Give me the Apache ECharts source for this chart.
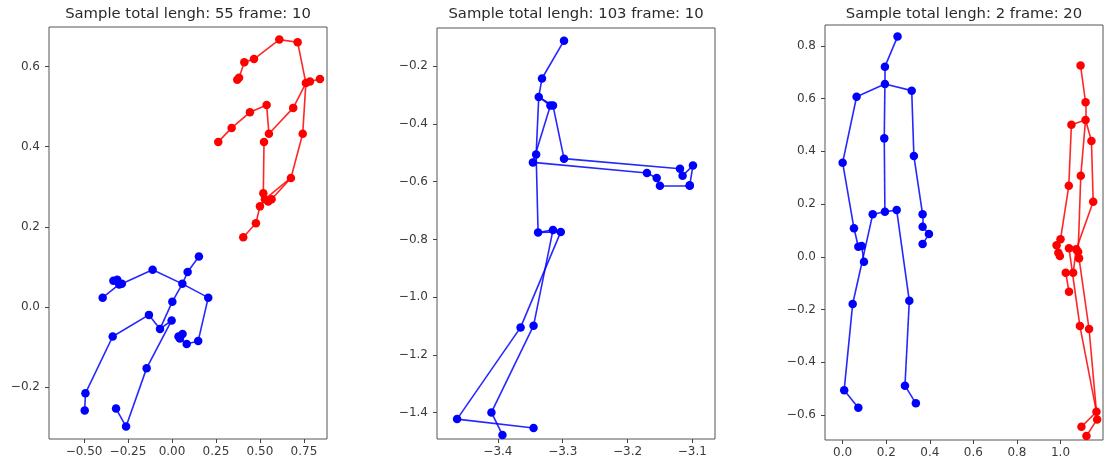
<!DOCTYPE html>
<html>
<head>
<meta charset="utf-8">
<script src="https://cdn.jsdelivr.net/npm/echarts@6/dist/echarts.min.js"></script>
<style>
  html, body { margin: 0; background: #fff; }
  #chart { width: 1109px; height: 466px; }
</style>
</head>
<body>
<div id="chart"></div>
<script>
// panel titles
const titles = [
  'Sample total lengh: 55 frame: 10',
  'Sample total lengh: 103 frame: 10',
  'Sample total lengh: 2 frame: 20'
]

// NTU 25-joint skeleton bones (1-based joint numbers)
const bones = [
  [1, 2], [2, 21], [3, 21], [4, 3], [5, 21], [6, 5], [7, 6], [8, 7],
  [9, 21], [10, 9], [11, 10], [12, 11], [13, 1], [14, 13], [15, 14], [16, 15],
  [17, 1], [18, 17], [19, 18], [20, 19], [22, 23], [23, 8], [24, 25], [25, 12]
]

// joint positions [x, y], joints 1..25
const p1Blue = [
  [-0.068, -0.055], [0.002, 0.013], [0.089, 0.087], [0.153, 0.126], [-0.110, 0.0925],
  [-0.285, 0.058], [-0.311, 0.0675], [-0.333, 0.065], [0.206, 0.023], [0.149, -0.085],
  [0.0835, -0.0925], [0.045, -0.079], [-0.131, -0.020], [-0.337, -0.074], [-0.492, -0.216],
  [-0.496, -0.259], [-0.002, -0.034], [-0.144, -0.153], [-0.261, -0.299], [-0.318, -0.254],
  [0.059, 0.0575], [-0.394, 0.023], [-0.300, 0.056], [0.037, -0.074], [0.060, -0.0675]
]
const p1Red = [
  [0.676, 0.322], [0.743, 0.4325], [0.784, 0.563], [0.841, 0.569], [0.714, 0.661],
  [0.610, 0.6675], [0.466, 0.619], [0.411, 0.611], [0.689, 0.497], [0.551, 0.4325],
  [0.538, 0.504], [0.443, 0.486], [0.566, 0.269], [0.547, 0.263], [0.519, 0.284],
  [0.523, 0.412], [0.528, 0.269], [0.500, 0.251], [0.477, 0.209], [0.405, 0.174],
  [0.761, 0.559], [0.371, 0.5675], [0.381, 0.572], [0.263, 0.412], [0.339, 0.447]
]
const p2Blue = [
  [-3.338, -0.776], [-3.341, -0.506], [-3.332, -0.242], [-3.298, -0.111], [-3.319, -0.336],
  [-3.346, -0.533], [-3.170, -0.570], [-3.155, -0.587], [-3.315, -0.336], [-3.298, -0.520],
  [-3.119, -0.555], [-3.115, -0.579], [-3.315, -0.767], [-3.345, -1.099], [-3.410, -1.400],
  [-3.393, -1.478], [-3.303, -0.774], [-3.365, -1.105], [-3.463, -1.423], [-3.345, -1.454],
  [-3.337, -0.306], [-3.104, -0.614], [-3.150, -0.614], [-3.104, -0.612], [-3.099, -0.544]
]
const p3Blue = [
  [0.194, 0.171], [0.191, 0.449], [0.194, 0.721], [0.252, 0.835], [0.064, 0.607],
  [0.000, 0.357], [0.052, 0.108], [0.072, 0.038], [0.317, 0.630], [0.327, 0.382],
  [0.367, 0.161], [0.367, 0.114], [0.138, 0.161], [0.046, -0.179], [0.007, -0.506],
  [0.072, -0.573], [0.248, 0.177], [0.306, -0.167], [0.286, -0.489], [0.336, -0.556],
  [0.194, 0.655], [0.098, -0.019], [0.087, 0.041], [0.367, 0.048], [0.396, 0.086]
]
const p3Red = [
  [1.081, 0.019], [1.093, 0.307], [1.115, 0.586], [1.092, 0.725], [1.050, 0.501],
  [1.038, 0.269], [1.000, 0.066], [0.982, 0.044], [1.142, 0.439], [1.150, 0.209],
  [1.072, 0.028], [1.058, -0.061], [1.039, 0.032], [1.089, -0.263], [1.165, -0.588],
  [1.096, -0.645], [1.085, -0.006], [1.131, -0.274], [1.168, -0.617], [1.119, -0.680],
  [1.115, 0.519], [0.990, 0.015], [0.997, 0.003], [1.039, -0.133], [1.024, -0.061]
]

// tick labels
const xTicks1 = [-0.5, -0.25, 0, 0.25, 0.5, 0.75]
const yTicks1 = [-0.2, 0, 0.2, 0.4, 0.6]
const xTicks2 = [-3.4, -3.3, -3.2, -3.1]
const yTicks2 = [-1.4, -1.2, -1.0, -0.8, -0.6, -0.4, -0.2]
const xTicks3 = [0, 0.2, 0.4, 0.6, 0.8, 1.0]
const yTicks3 = [-0.6, -0.4, -0.2, 0, 0.2, 0.4, 0.6, 0.8]

const panels = [
  { grid: { left: 49, top: 27, width: 278, height: 412 }, xRange: [-0.699, 0.881], yRange: [-0.33, 0.699],
    xTicks: xTicks1, yTicks: yTicks1, xDec: 2, yDec: 1, people: [[p1Blue, '#0000ff'], [p1Red, '#ff0000']] },
  { grid: { left: 437, top: 28, width: 278, height: 411 }, xRange: [-3.494, -3.065], yRange: [-1.492, -0.067],
    xTicks: xTicks2, yTicks: yTicks2, xDec: 1, yDec: 1, people: [[p2Blue, '#0000ff']] },
  { grid: { left: 825, top: 25, width: 278, height: 415 }, xRange: [-0.081, 1.195], yRange: [-0.695, 0.879],
    xTicks: xTicks3, yTicks: yTicks3, xDec: 1, yDec: 1, people: [[p3Blue, '#0000ff'], [p3Red, '#ff0000']] }
]

const fmt = (v, dec) => {
  const s = (Math.abs(v) < 1e-9 ? 0 : v).toFixed(dec)
  return s.replace('-', '\u2212')
}

const tickStyle = { show: true, inside: false, length: 4, lineStyle: { color: '#444', width: 1 } }
const labelFont = { color: '#3a3a3a', fontSize: 12, fontFamily: 'DejaVu Sans' }

const grids = []
const xAxes = []
const yAxes = []
const series = []
const graphics = []

panels.forEach((p, i) => {
  grids.push({ ...p.grid, show: true, borderColor: '#555', borderWidth: 1, backgroundColor: '#fff' })
  xAxes.push({
    type: 'value', gridIndex: i, min: p.xRange[0], max: p.xRange[1],
    splitLine: { show: false },
    axisLine: { show: false, onZero: false },
    axisTick: { ...tickStyle, customValues: p.xTicks },
    axisLabel: { ...labelFont, margin: 7, customValues: p.xTicks, formatter: v => fmt(v, p.xDec) }
  })
  yAxes.push({
    type: 'value', gridIndex: i, min: p.yRange[0], max: p.yRange[1],
    splitLine: { show: false },
    axisLine: { show: false, onZero: false },
    axisTick: { ...tickStyle, customValues: p.yTicks },
    axisLabel: { ...labelFont, margin: 9, customValues: p.yTicks, formatter: v => fmt(v, p.yDec) }
  })
  p.people.forEach(([joints, color]) => {
    series.push({
      type: 'lines', coordinateSystem: 'cartesian2d', xAxisIndex: i, yAxisIndex: i,
      polyline: false, silent: true, z: 2,
      lineStyle: { color: color, width: 1.6, opacity: 0.85 },
      data: bones.map(([a, b]) => ({ coords: [joints[a - 1], joints[b - 1]] }))
    })
    series.push({
      type: 'scatter', xAxisIndex: i, yAxisIndex: i, z: 3,
      symbol: 'circle', symbolSize: 8.5,
      itemStyle: { color: color, opacity: 1 },
      data: joints
    })
  })
  graphics.push({
    type: 'text',
    x: p.grid.left + p.grid.width / 2,
    y: 14,
    style: {
      text: titles[i],
      fill: '#2a2a2a',
      font: '14.8px "DejaVu Sans"',
      textAlign: 'center',
      textVerticalAlign: 'middle'
    }
  })
})

const chart = echarts.init(document.getElementById('chart'))
chart.setOption({
  animation: false,
  backgroundColor: '#fff',
  grid: grids,
  xAxis: xAxes,
  yAxis: yAxes,
  series: series,
  graphic: graphics
})
window.addEventListener('resize', () => chart.resize())
</script>
</body>
</html>
